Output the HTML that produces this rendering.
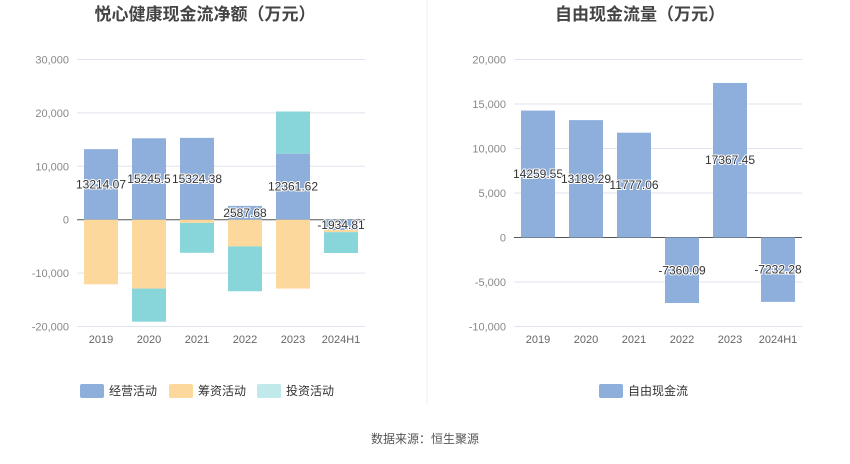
<!DOCTYPE html>
<html><head><meta charset="utf-8">
<style>
html,body{margin:0;padding:0;background:#fff;}
body{width:850px;height:459px;overflow:hidden;font-family:"Liberation Sans","Noto Sans CJK SC",sans-serif;}
svg text{font-family:"Liberation Sans","Noto Sans CJK SC",sans-serif;}
</style></head>
<body>
<svg id="c" width="850" height="459" xmlns="http://www.w3.org/2000/svg">
<line x1="427" y1="0" x2="427" y2="405" stroke="#f0f0f0" stroke-width="1"/>
<text x="205" y="20" text-anchor="middle" font-size="17" font-weight="bold" fill="#444">悦心健康现金流净额（万元）</text>
<text x="640" y="20" text-anchor="middle" font-size="17" font-weight="bold" fill="#444">自由现金流量（万元）</text>
<text x="425" y="443" text-anchor="middle" font-size="12" fill="#555">数据来源：恒生聚源</text>
</svg>
<script>
const categories=['2019','2020','2021','2022','2023','2024H1'];
const opValues=[13214.07,15245.5,15324.38,2587.68,12361.62,-1934.81];
const finValues=[-12100,-12900,-600,-5000,-12900,-400];
const invValues=[0,-6200,-5600,-8400,7900,-3900];
const opLabels=['13214.07','15245.5','15324.38','2587.68','12361.62','-1934.81'];
const leftTicks=[30000,20000,10000,0,-10000,-20000];
const fcfValues=[14259.55,13189.29,11777.06,-7360.09,17367.45,-7232.28];
const fcfLabels=['14259.55','13189.29','11777.06','-7360.09','17367.45','-7232.28'];
const rightTicks=[20000,15000,10000,5000,0,-5000,-10000];

const svg=document.getElementById('c');
const NS='http://www.w3.org/2000/svg';
function mk(tag,attrs,parent){const e=document.createElementNS(NS,tag);for(const k in attrs)e.setAttribute(k,attrs[k]);(parent||svg).appendChild(e);return e;}
function fmt(v){return v.toLocaleString('en-US');}

// left chart
const L={x0:77,x1:365,yTop:59.5,yBot:326.5,min:-20000,max:30000};
const Ly=v=>L.yBot-(v-L.min)/(L.max-L.min)*(L.yBot-L.yTop);
const Lband=(L.x1-L.x0)/categories.length;
const Lx=i=>L.x0+Lband*(i+0.5);
leftTicks.forEach(t=>{
  const g=mk('line',{x1:L.x0,x2:L.x1,y1:Ly(t),y2:Ly(t),stroke:t===0?'#555':'#e0e3ee','stroke-width':1});
  
  
  const tx=mk('text',{x:69,y:Ly(t)+4,'text-anchor':'end','font-size':11,fill:'#888'});
  tx.textContent=fmt(t);
  
  
});
const bw=34;
const series=[[opValues,'#8eaedb','operating'],[finValues,'#fdd89c','financing'],[invValues,'#88d6d9','investing']];
categories.forEach((c,i)=>{
  let pos=0,neg=0;
  series.forEach(([arr,col,nm])=>{
    const v=arr[i]; if(!v) return;
    let a,b;
    if(v>=0){a=pos;b=pos+v;pos=b;}else{a=neg;b=neg+v;neg=b;}
    const y1=Ly(Math.max(a,b)),y2=Ly(Math.min(a,b));
    const r=mk('rect',{x:Lx(i)-bw/2,y:y1,width:bw,height:y2-y1,fill:col});
    
    
  });
  const tx=mk('text',{x:Lx(i),y:Ly(opValues[i]/2)+4,'text-anchor':'middle','font-size':12,fill:'#333',stroke:'#fff','stroke-width':2,'paint-order':'stroke'});
  tx.textContent=opLabels[i];
  
  
  const xl=mk('text',{x:Lx(i),y:343,'text-anchor':'middle','font-size':11,fill:'#666'});
  xl.textContent=c;
  
  
});

// right chart
const R={x0:514,x1:802,yTop:59.5,yBot:326.5,min:-10000,max:20000};
const Ry=v=>R.yBot-(v-R.min)/(R.max-R.min)*(R.yBot-R.yTop);
const Rband=(R.x1-R.x0)/categories.length;
const Rx=i=>R.x0+Rband*(i+0.5);
rightTicks.forEach(t=>{
  const g=mk('line',{x1:R.x0,x2:R.x1,y1:Ry(t),y2:Ry(t),stroke:t===0?'#555':'#e0e3ee','stroke-width':1});
  
  
  const tx=mk('text',{x:506,y:Ry(t)+4,'text-anchor':'end','font-size':11,fill:'#888'});
  tx.textContent=fmt(t);
  
  
});
categories.forEach((c,i)=>{
  const v=fcfValues[i];
  const y1=Ry(Math.max(0,v)),y2=Ry(Math.min(0,v));
  const r=mk('rect',{x:Rx(i)-bw/2,y:y1,width:bw,height:y2-y1,fill:'#8eaedb'});
  
  
  const tx=mk('text',{x:Rx(i),y:Ry(v/2)+4,'text-anchor':'middle','font-size':12,fill:'#333',stroke:'#fff','stroke-width':2,'paint-order':'stroke'});
  tx.textContent=fcfLabels[i];
  
  
  const xl=mk('text',{x:Rx(i),y:343,'text-anchor':'middle','font-size':11,fill:'#666'});
  xl.textContent=c;
  
  
});

// legends
const legends=[[80,'#8eaedb','经营活动'],[169,'#fdd89c','筹资活动'],[257,'#bfe9ea','投资活动'],[599,'#8eaedb','自由现金流']];
legends.forEach(([x,col,lab])=>{
  const r=mk('rect',{x:x,y:384,width:24,height:14,rx:2,fill:col});
  
  
  const t=mk('text',{x:x+29,y:395,'font-size':12,fill:'#333'});
  t.textContent=lab;
  
  
});
</script>
</body></html>
